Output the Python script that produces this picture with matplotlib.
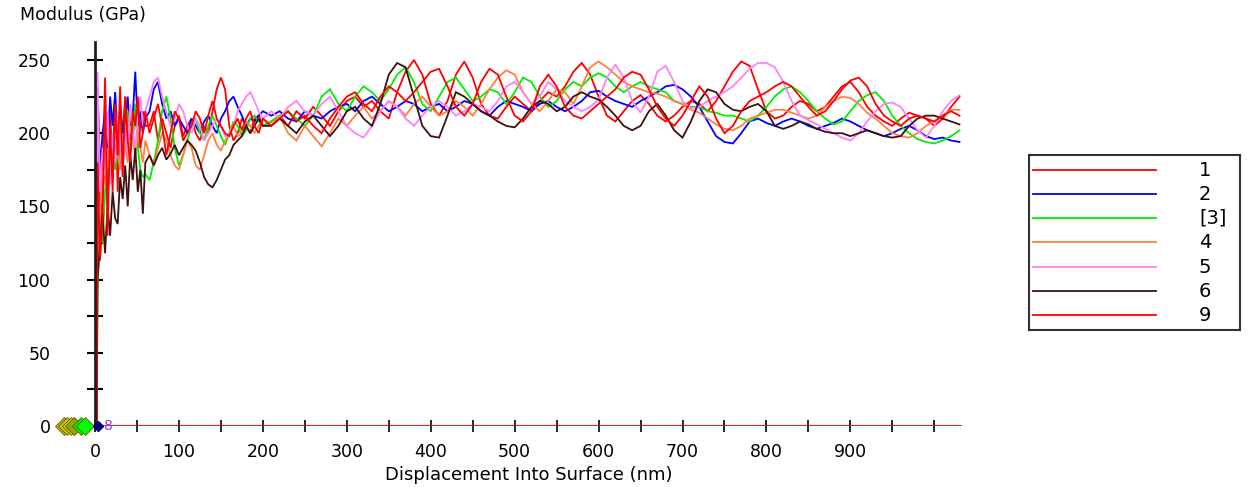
import matplotlib
matplotlib.use("Agg")
import matplotlib.pyplot as plt

plt.rcParams['font.family'] = ['DejaVu Sans']

# displacement grid (nm): contact point, fine steps near surface, coarser deeper
depth = [2] + list(range(3, 61, 3)) + list(range(65, 201, 5)) + list(range(210, 1031, 10))

labels = ["1", "2", "[3]", "4", "5", "6", "9"]
colors = ["#ff0000", "#0000ff", "#00ee00", "#ff8040", "#ff80ff", "#401010", "#ff0000"]

mod_1 = [0, 225, 113, 160, 238, 150, 215, 175, 228, 160, 220, 200, 225, 185, 210, 195, 220, 190, 205, 215, 205,
         205, 215, 195, 210, 200, 190, 205, 212, 198, 205, 210, 200, 195, 205, 200, 215, 230, 238, 230, 205,
         195, 200, 210, 205, 200, 210, 212, 205,
         208, 212, 205, 215, 210, 218, 212, 205, 215, 222,
         225, 218, 222, 215, 210, 228, 242, 250, 240, 220,
         212, 222, 240, 249, 238, 220, 212, 210, 218, 225,
         220, 215, 222, 228, 225, 232, 242, 248, 240, 225,
         212, 208, 215, 222, 226, 220, 212, 208, 212, 218,
         222, 220, 215, 222, 232, 242, 249, 246, 230, 215,
         210, 212, 218, 222, 220, 215, 218, 225, 232, 235,
         228, 218, 212, 208, 205, 210, 214, 212, 210, 205,
         210, 218, 225]

mod_2 = [0, 232, 175, 200, 215, 190, 225, 205, 228, 195, 215, 200, 210, 225, 195, 212, 242, 205, 215, 200, 210,
         215, 230, 235, 220, 210, 215, 205, 210, 205, 200, 210, 205, 200, 208, 212, 205, 200, 210, 215, 222,
         225, 218, 212, 205, 210, 208, 212, 215,
         212, 215, 210, 208, 215, 212, 210, 215, 218, 220,
         215, 222, 225, 220, 215, 218, 222, 220, 215, 218,
         220, 215, 218, 222, 220, 215, 212, 218, 222, 220,
         218, 215, 220, 222, 218, 215, 218, 222, 228, 229,
         225, 222, 220, 218, 222, 225, 228, 232, 233, 230,
         225, 218, 208, 198, 194, 193, 200, 208, 210, 207,
         205, 208, 210, 208, 205, 203, 205, 207, 210, 208,
         205, 202, 200, 198, 200, 203, 205, 202, 198, 196,
         197, 195, 194]

mod_3 = [0, 92, 140, 125, 160, 185, 170, 200, 175, 190, 210, 180, 195, 215, 185, 200, 220, 190, 175, 170, 172,
         168, 180, 195, 215, 225, 210, 190, 178, 185, 195, 205, 210, 200, 195, 205, 212, 205, 198, 192, 200,
         208, 205, 198, 202, 210, 212, 208, 205,
         208, 212, 215, 210, 205, 212, 225, 230, 220, 215,
         225, 232, 228, 222, 230, 240, 245, 235, 220, 215,
         225, 235, 238, 230, 222, 225, 230, 228, 220, 228,
         238, 235, 225, 218, 222, 230, 235, 232, 238, 241,
         238, 232, 228, 232, 235, 232, 230, 228, 222, 220,
         218, 218, 215, 214, 212, 212, 210, 208, 212, 218,
         225, 230, 232, 228, 222, 215, 210, 206, 208, 215,
         222, 226, 228, 222, 212, 205, 200, 196, 194, 193,
         195, 198, 202]

mod_4 = [0, 130, 150, 175, 165, 190, 180, 170, 195, 185, 175, 200, 190, 180, 205, 195, 185, 200, 190, 180, 195,
         185, 178, 190, 200, 195, 185, 178, 175, 185, 195, 190, 178, 175, 185, 195, 200, 192, 188, 195, 200,
         205, 198, 200, 208, 205, 200, 205, 210,
         205, 212, 200, 195, 205, 198, 191, 200, 210, 205,
         212, 218, 210, 215, 222, 218, 212, 220, 225, 218,
         212, 215, 222, 218, 212, 220, 230, 238, 243, 240,
         228, 220, 215, 222, 230, 228, 220, 232, 245, 249,
         245, 240, 235, 232, 230, 228, 227, 225, 222, 220,
         216, 214, 210, 206, 203, 202, 205, 210, 212, 214,
         216, 216, 214, 212, 210, 212, 218, 222, 225, 224,
         220, 214, 210, 205, 200, 198, 197, 200, 205, 208,
         212, 216, 216]

mod_5 = [0, 242, 160, 190, 175, 215, 165, 200, 180, 215, 195, 170, 205, 185, 220, 200, 190, 210, 225, 205, 215,
         225, 235, 238, 225, 215, 205, 210, 220, 215, 205, 200, 210, 205, 195, 200, 205, 210, 205, 198, 200,
         205, 215, 220, 225, 228, 222, 215, 210,
         215, 210, 218, 222, 215, 212, 220, 225, 215, 205,
         200, 197, 205, 215, 222, 218, 210, 205, 212, 218,
         222, 218, 212, 215, 220, 218, 215, 222, 232, 235,
         228, 220, 225, 235, 230, 222, 218, 215, 218, 223,
         238, 247, 238, 222, 214, 225, 242, 246, 235, 222,
         217, 218, 222, 225, 228, 232, 238, 244, 248, 248,
         245, 235, 222, 212, 209, 206, 203, 200, 197, 195,
         200, 208, 215, 220, 221, 218, 210, 202, 197, 205,
         215, 222, 226]

mod_6 = [0, 100, 125, 145, 118, 150, 130, 160, 142, 138, 170, 155, 178, 150, 185, 168, 190, 160, 175, 145, 180,
         185, 178, 185, 190, 182, 186, 192, 185, 190, 195, 192, 188, 180, 170, 165, 163, 168, 175, 182, 185,
         192, 195, 198, 205, 200, 205, 210, 205,
         205, 210, 205, 200, 208, 212, 205, 198, 205, 215,
         218, 210, 205, 220, 240, 248, 245, 225, 205, 198,
         197, 212, 228, 225, 220, 215, 212, 208, 205, 204,
         210, 218, 222, 220, 215, 218, 225, 228, 225, 223,
         218, 212, 205, 202, 205, 215, 220, 212, 202, 197,
         208, 222, 230, 228, 220, 216, 215, 218, 220, 215,
         205, 203, 205, 208, 206, 203, 201, 200, 200, 198,
         200, 202, 200, 198, 197, 198, 205, 210, 212, 212,
         210, 208, 206]

mod_9 = [0, 180, 115, 140, 230, 130, 205, 160, 220, 185, 232, 170, 225, 195, 180, 215, 205, 225, 190, 200, 215,
         200, 210, 220, 205, 185, 200, 215, 210, 195, 200, 205, 215, 210, 200, 212, 222, 210, 205, 200, 198,
         205, 210, 202, 210, 215, 205, 200, 210,
         205, 210, 215, 208, 212, 205, 200, 210, 218, 225,
         228, 220, 215, 225, 232, 228, 222, 228, 235, 242,
         244, 232, 218, 212, 220, 235, 244, 240, 225, 212,
         208, 215, 232, 240, 232, 218, 212, 210, 215, 220,
         225, 230, 238, 242, 240, 230, 218, 210, 205, 212,
         222, 232, 225, 210, 200, 205, 215, 222, 225, 228,
         232, 235, 232, 225, 218, 212, 215, 222, 230, 236,
         238, 232, 220, 212, 208, 205, 210, 212, 210, 208,
         212, 215, 212]

series = [mod_1, mod_2, mod_3, mod_4, mod_5, mod_6, mod_9]

# stray symbols drawn at zero load, left of the surface
sym_x = [-37, -33, -29, -25, -17, -12]
sym_c = ["#b8b800", "#c8c800", "#d0d000", "#a0a000", "#00ee00", "#00ff00"]

y_ticks = list(range(0, 251, 25))
y_labels = [str(v) if v % 50 == 0 else "" for v in y_ticks]
x_ticks = list(range(0, 1001, 50))
x_labels = [str(v) if v % 100 == 0 and v < 1000 else "" for v in x_ticks]

W, H = 1248, 487
fig = plt.figure(figsize=(W / 100, H / 100), dpi=100)
ax = fig.add_axes([95 / W, 1 - 426 / H, (962 - 95) / W, (426 - 42) / H])

for vals, c in zip(series, colors):
    ax.plot(depth, vals, color=c, lw=1.3, solid_joinstyle="miter")

ax.axhline(0, color="#ff0000", lw=1.3, zorder=3)
for sx, sc in zip(sym_x, sym_c):
    ax.plot([sx], [0], marker="D", ms=9, color=sc, mec="#606000", mew=0.6,
            clip_on=False, zorder=5)
ax.plot([3], [0], marker="D", ms=5, color="#000080", clip_on=False, zorder=5)
ax.text(11, 0, "8", color="#8040e0", fontsize=10, va="center", ha="left", clip_on=False)

ax.set_xlim(0, 1033)
ax.set_ylim(0, 262.3)
for s in ["top", "right", "bottom"]:
    ax.spines[s].set_visible(False)
ax.spines["left"].set_linewidth(2)
ax.spines["left"].set_color("#202020")

ax.set_yticks(y_ticks)
ax.set_yticklabels(y_labels)
ax.set_xticks(x_ticks)
ax.set_xticklabels(x_labels)
ax.tick_params(axis="y", direction="inout", length=12, width=1.5, pad=26, labelsize=12.5)
ax.tick_params(axis="x", direction="inout", length=8, width=1.2, pad=8, labelsize=12.5)

ax.set_xlabel("Displacement Into Surface (nm)", fontsize=13, labelpad=4)
fig.text(20 / W, 1 - 15 / H, "Modulus (GPa)", fontsize=12.5, ha="left", va="center")

# legend box
lax = fig.add_axes([1029 / W, 1 - 330 / H, (1240 - 1029) / W, (330 - 155) / H])
lax.set_xlim(1029, 1240)
lax.set_ylim(330, 155)
lax.set_xticks([])
lax.set_yticks([])
for s in lax.spines.values():
    s.set_linewidth(1.5)
    s.set_color("#303030")
rows = [170, 194, 218, 242, 267, 291, 315]
for r, lab, c in zip(rows, labels, colors):
    lax.plot([1033, 1156], [r, r], color=c, lw=1.3)
    lax.text(1199, r, lab, fontsize=14, ha="left", va="center")

fig.savefig("out.png", dpi=100)
